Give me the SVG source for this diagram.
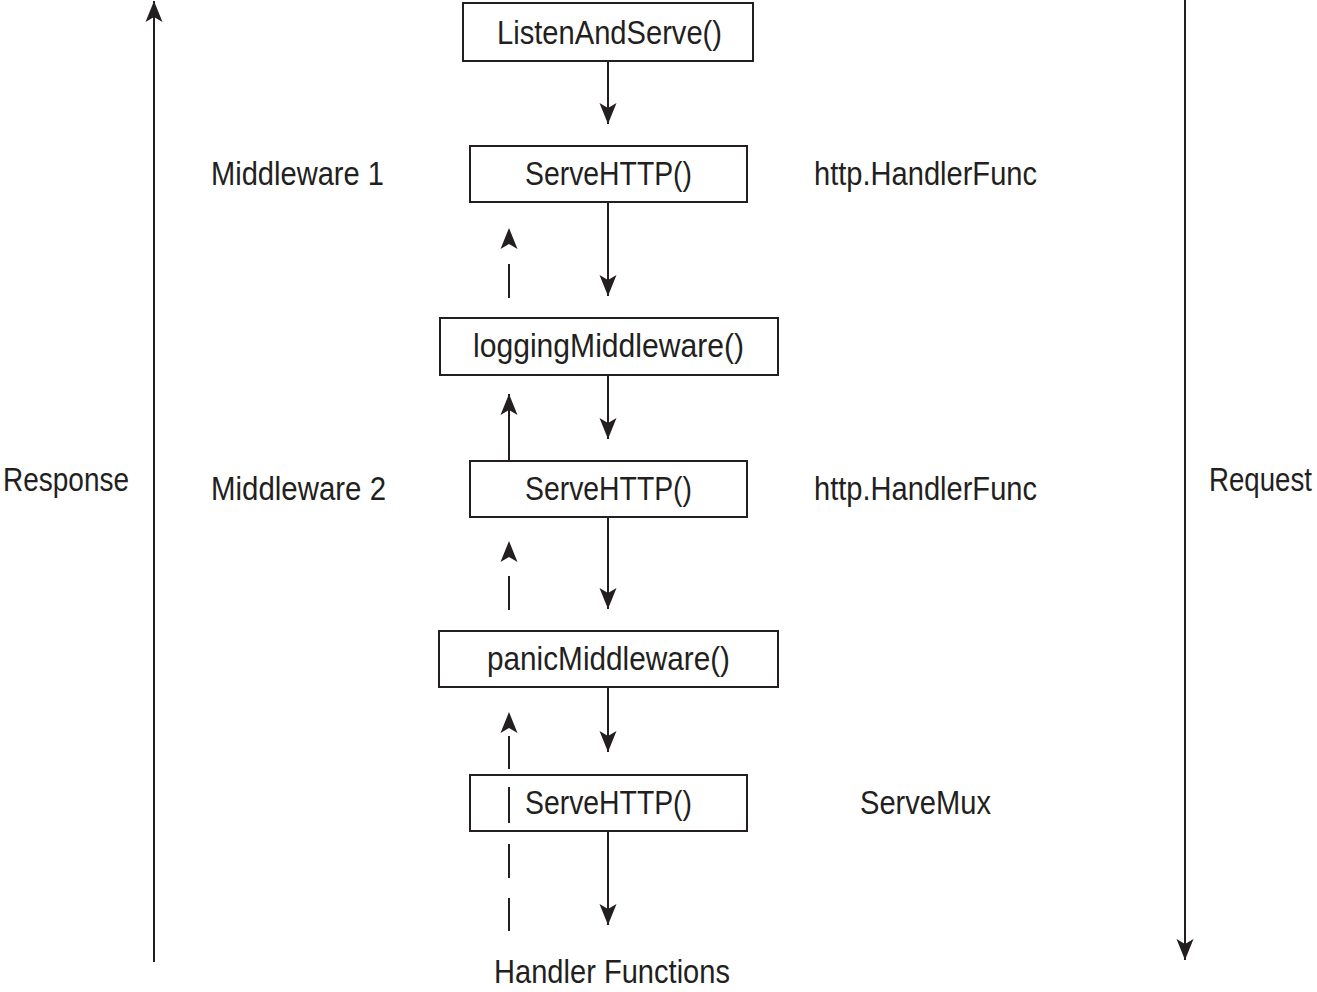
<svg xmlns="http://www.w3.org/2000/svg" width="1317" height="992" viewBox="0 0 1317 992">
<style>
  .box { fill: #fff; stroke: #231f20; stroke-width: 2; }
  .t { font-family: "Liberation Sans", Arial, sans-serif; font-size: 33px; fill: #231f20; }
  .ln { stroke: #231f20; stroke-width: 2; fill: none; }
  .hd { stroke: none; fill: none; }
</style>
<defs>
  <marker id="ah" viewBox="-22 -10 24 20" refX="0" refY="0" markerWidth="24" markerHeight="20" markerUnits="userSpaceOnUse" orient="auto">
    <path d="M0,0 L-21,-8.5 L-16,0 L-21,8.5 Z" fill="#231f20"/>
  </marker>
</defs>
<rect width="1317" height="992" fill="#fff"/>

<g id="connectors">
  <line class="ln" x1="154" y1="962" x2="154" y2="1" marker-end="url(#ah)"/>
  <line class="ln" x1="1185" y1="0" x2="1185" y2="960" marker-end="url(#ah)"/>
  <line class="ln" x1="608" y1="61" x2="608" y2="124" marker-end="url(#ah)"/>
  <line class="ln" x1="608" y1="202" x2="608" y2="296" marker-end="url(#ah)"/>
  <line class="ln" x1="608" y1="375" x2="608" y2="439" marker-end="url(#ah)"/>
  <line class="ln" x1="608" y1="517" x2="608" y2="609" marker-end="url(#ah)"/>
  <line class="ln" x1="608" y1="687" x2="608" y2="752" marker-end="url(#ah)"/>
  <line class="ln" x1="608" y1="831" x2="608" y2="925" marker-end="url(#ah)"/>
  <!-- response (up) arrows -->
  <line class="ln" x1="509" y1="298" x2="509" y2="264"/>
  <line class="hd" x1="509" y1="264" x2="509" y2="228" marker-end="url(#ah)"/>
  <line class="ln" x1="509" y1="461" x2="509" y2="394" marker-end="url(#ah)"/>
  <line class="ln" x1="509" y1="610" x2="509" y2="576"/>
  <line class="hd" x1="509" y1="576" x2="509" y2="541" marker-end="url(#ah)"/>
  <line class="ln" x1="509" y1="931" x2="509" y2="898"/>
  <line class="ln" x1="509" y1="878" x2="509" y2="844"/>
  <line class="ln" x1="509" y1="769" x2="509" y2="736"/>
  <line class="hd" x1="509" y1="736" x2="509" y2="712" marker-end="url(#ah)"/>
</g>

<g id="listen">
  <rect class="box" x="463" y="3" width="290" height="58"/>
  <text class="t" x="497" y="44" textLength="225" lengthAdjust="spacingAndGlyphs">ListenAndServe()</text>
</g>
<g id="serve1">
  <rect class="box" x="470" y="146" width="277" height="56"/>
  <text class="t" x="525" y="185" textLength="167" lengthAdjust="spacingAndGlyphs">ServeHTTP()</text>
</g>
<g id="logging">
  <rect class="box" x="440" y="318" width="338" height="57"/>
  <text class="t" x="473" y="357" textLength="271" lengthAdjust="spacingAndGlyphs">loggingMiddleware()</text>
</g>
<g id="serve2">
  <rect class="box" x="470" y="461" width="277" height="56"/>
  <text class="t" x="525" y="500" textLength="167" lengthAdjust="spacingAndGlyphs">ServeHTTP()</text>
</g>
<g id="panic">
  <rect class="box" x="439" y="631" width="339" height="56"/>
  <text class="t" x="487" y="670" textLength="243" lengthAdjust="spacingAndGlyphs">panicMiddleware()</text>
</g>
<g id="serve3">
  <rect class="box" x="470" y="775" width="277" height="56"/>
  <text class="t" x="525" y="814" textLength="167" lengthAdjust="spacingAndGlyphs">ServeHTTP()</text>
  <line class="ln" x1="509" y1="823" x2="509" y2="787"/>
</g>
<g id="handlers">
  <text class="t" x="494" y="983" textLength="236" lengthAdjust="spacingAndGlyphs">Handler Functions</text>
</g>
<g id="labels">
  <text class="t" x="211" y="185" textLength="173" lengthAdjust="spacingAndGlyphs">Middleware 1</text>
  <text class="t" x="814" y="185" textLength="223" lengthAdjust="spacingAndGlyphs">http.HandlerFunc</text>
  <text class="t" x="211" y="500" textLength="175" lengthAdjust="spacingAndGlyphs">Middleware 2</text>
  <text class="t" x="814" y="500" textLength="223" lengthAdjust="spacingAndGlyphs">http.HandlerFunc</text>
  <text class="t" x="860" y="814" textLength="131" lengthAdjust="spacingAndGlyphs">ServeMux</text>
  <text class="t" x="3" y="491" textLength="126" lengthAdjust="spacingAndGlyphs">Response</text>
  <text class="t" transform="translate(1209,491) scale(1,1.18)" x="0" y="0" style="font-size:28px" textLength="103" lengthAdjust="spacingAndGlyphs">Request</text>
</g>
</svg>
